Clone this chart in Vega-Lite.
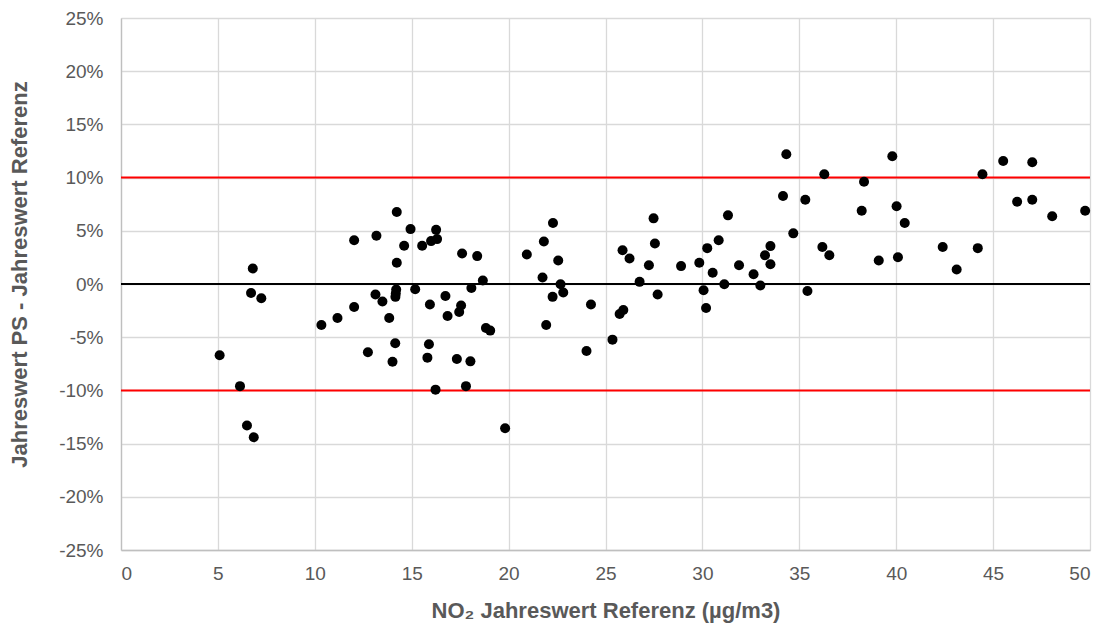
{
  "$schema": "https://vega.github.io/schema/vega-lite/v6.json",
  "width": 969,
  "height": 532,
  "autosize": "none",
  "padding": {"left": 121, "top": 18, "right": 16, "bottom": 80},
  "background": "white",
  "config": {
    "view": {"stroke": null},
    "font": "Liberation Sans",
    "axis": {
      "gridColor": "#d9d9d9",
      "gridWidth": 1.3,
      "domainColor": "#bfbfbf",
      "domainWidth": 1.3,
      "ticks": false,
      "labelColor": "#595959",
      "labelFont": "Liberation Sans",
      "labelFontSize": 19,
      "titleColor": "#595959",
      "titleFont": "Liberation Sans",
      "titleFontWeight": "bold",
      "titleFontSize": 22
    }
  },
  "datasets": {
    "pts": [
      {"no2": 5.09, "diff": -6.70}, {"no2": 6.14, "diff": -9.60}, {"no2": 6.50, "diff": -13.30}, {"no2": 6.85, "diff": -14.40},
      {"no2": 6.80, "diff": 1.46}, {"no2": 6.71, "diff": -0.84}, {"no2": 7.24, "diff": -1.34},
      {"no2": 14.23, "diff": 6.76}, {"no2": 14.94, "diff": 5.16}, {"no2": 16.26, "diff": 5.09}, {"no2": 12.03, "diff": 4.12},
      {"no2": 13.18, "diff": 4.53}, {"no2": 14.61, "diff": 3.59}, {"no2": 15.54, "diff": 3.59}, {"no2": 16.00, "diff": 4.03},
      {"no2": 16.31, "diff": 4.22}, {"no2": 17.60, "diff": 2.87}, {"no2": 18.38, "diff": 2.62}, {"no2": 14.23, "diff": 1.99},
      {"no2": 18.67, "diff": 0.33}, {"no2": 18.08, "diff": -0.37}, {"no2": 14.20, "diff": -0.52}, {"no2": 14.18, "diff": -0.89},
      {"no2": 14.16, "diff": -1.21}, {"no2": 15.18, "diff": -0.49}, {"no2": 13.13, "diff": -0.99}, {"no2": 13.49, "diff": -1.65},
      {"no2": 16.74, "diff": -1.12}, {"no2": 15.94, "diff": -1.93}, {"no2": 12.03, "diff": -2.16}, {"no2": 11.17, "diff": -3.19},
      {"no2": 10.34, "diff": -3.85}, {"no2": 13.84, "diff": -3.19}, {"no2": 16.85, "diff": -3.00}, {"no2": 17.55, "diff": -2.02},
      {"no2": 17.45, "diff": -2.63}, {"no2": 18.83, "diff": -4.13}, {"no2": 19.05, "diff": -4.38}, {"no2": 14.15, "diff": -5.57},
      {"no2": 15.89, "diff": -5.67}, {"no2": 12.74, "diff": -6.42}, {"no2": 14.01, "diff": -7.30}, {"no2": 15.81, "diff": -6.92},
      {"no2": 17.33, "diff": -7.05}, {"no2": 18.03, "diff": -7.27}, {"no2": 16.23, "diff": -9.93}, {"no2": 17.80, "diff": -9.60},
      {"no2": 22.29, "diff": 5.73}, {"no2": 27.48, "diff": 6.17}, {"no2": 21.82, "diff": 4.00}, {"no2": 27.55, "diff": 3.81},
      {"no2": 20.94, "diff": 2.78}, {"no2": 22.56, "diff": 2.21}, {"no2": 25.88, "diff": 3.18}, {"no2": 26.24, "diff": 2.40},
      {"no2": 27.24, "diff": 1.77}, {"no2": 28.90, "diff": 1.68}, {"no2": 21.75, "diff": 0.61}, {"no2": 22.68, "diff": -0.02},
      {"no2": 22.82, "diff": -0.80}, {"no2": 22.27, "diff": -1.21}, {"no2": 26.76, "diff": 0.20}, {"no2": 27.69, "diff": -0.99},
      {"no2": 24.25, "diff": -1.93}, {"no2": 25.92, "diff": -2.44}, {"no2": 25.73, "diff": -2.82}, {"no2": 21.94, "diff": -3.85},
      {"no2": 25.36, "diff": -5.23}, {"no2": 24.02, "diff": -6.30}, {"no2": 19.82, "diff": -13.55},
      {"no2": 34.33, "diff": 12.19}, {"no2": 39.80, "diff": 12.01}, {"no2": 36.29, "diff": 10.31}, {"no2": 38.34, "diff": 9.61},
      {"no2": 34.16, "diff": 8.27}, {"no2": 35.31, "diff": 7.92}, {"no2": 38.22, "diff": 6.88}, {"no2": 40.02, "diff": 7.30},
      {"no2": 31.32, "diff": 6.45}, {"no2": 34.69, "diff": 4.76}, {"no2": 30.84, "diff": 4.12}, {"no2": 30.25, "diff": 3.37},
      {"no2": 33.51, "diff": 3.56}, {"no2": 36.19, "diff": 3.47}, {"no2": 36.55, "diff": 2.71}, {"no2": 33.23, "diff": 2.71},
      {"no2": 33.51, "diff": 1.86}, {"no2": 40.09, "diff": 2.52}, {"no2": 39.10, "diff": 2.21}, {"no2": 29.84, "diff": 1.99},
      {"no2": 31.89, "diff": 1.77}, {"no2": 30.53, "diff": 1.05}, {"no2": 32.64, "diff": 0.92}, {"no2": 31.13, "diff": -0.02},
      {"no2": 32.99, "diff": -0.14}, {"no2": 30.06, "diff": -0.58}, {"no2": 35.42, "diff": -0.65}, {"no2": 30.19, "diff": -2.25},
      {"no2": 45.52, "diff": 11.56}, {"no2": 47.02, "diff": 11.44}, {"no2": 44.45, "diff": 10.31}, {"no2": 46.24, "diff": 7.73},
      {"no2": 47.02, "diff": 7.92}, {"no2": 48.05, "diff": 6.36}, {"no2": 49.75, "diff": 6.88}, {"no2": 40.44, "diff": 5.73},
      {"no2": 42.40, "diff": 3.47}, {"no2": 44.21, "diff": 3.37}, {"no2": 43.12, "diff": 1.37}
    ],
    "limits": [{"ref": 10}, {"ref": -10}],
    "zero": [{"ref": 0}]
  },
  "layer": [
    {
      "data": {"name": "pts"},
      "mark": {"type": "point", "opacity": 0},
      "encoding": {
        "x": {
          "field": "no2", "type": "quantitative",
          "scale": {"domain": [0, 50], "nice": false, "zero": false},
          "axis": {
            "values": [0, 5, 10, 15, 20, 25, 30, 35, 40, 45, 50],
            "title": "NO₂ Jahreswert Referenz (µg/m3)",
            "labelPadding": 14,
            "titlePadding": 17
          }
        },
        "y": {
          "field": "diff", "type": "quantitative",
          "scale": {"domain": [-25, 25], "nice": false, "zero": false},
          "axis": {
            "values": [-25, -20, -15, -10, -5, 0, 5, 10, 15, 20, 25],
            "labelExpr": "datum.value + '%'",
            "title": "Jahreswert PS - Jahreswert  Referenz",
            "labelPadding": 18,
            "titlePadding": 27,
            "titleY": 256
          }
        }
      }
    },
    {
      "data": {"name": "limits"},
      "mark": {"type": "rule", "color": "#ff0000", "strokeWidth": 2},
      "encoding": {"y": {"field": "ref", "type": "quantitative"}}
    },
    {
      "data": {"name": "zero"},
      "mark": {"type": "rule", "color": "#000000", "strokeWidth": 2},
      "encoding": {"y": {"field": "ref", "type": "quantitative"}}
    },
    {
      "data": {"name": "pts"},
      "mark": {"type": "circle", "color": "#000000", "opacity": 1, "size": 100},
      "encoding": {
        "x": {"field": "no2", "type": "quantitative"},
        "y": {"field": "diff", "type": "quantitative"}
      }
    }
  ]
}
